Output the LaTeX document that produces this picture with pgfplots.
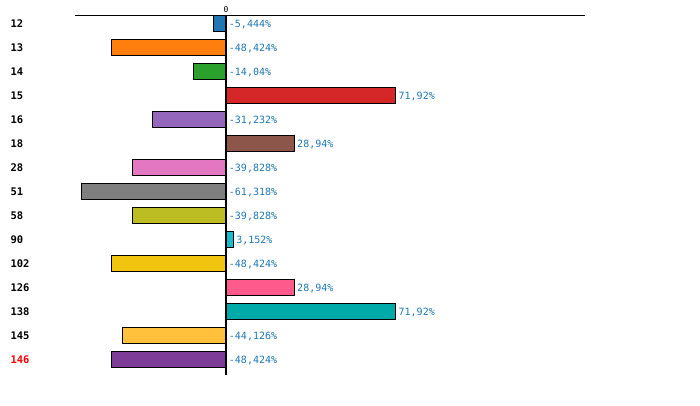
\documentclass[border=0pt]{standalone}
\usepackage{pgfplots}
\pgfplotsset{compat=1.18}
\usepackage{fontspec}
\setmainfont{DejaVu Sans Mono}
\definecolor{c12}{HTML}{1F77B4}
\definecolor{c13}{HTML}{FF7F0E}
\definecolor{c14}{HTML}{2CA02C}
\definecolor{c15}{HTML}{D62728}
\definecolor{c16}{HTML}{9467BD}
\definecolor{c18}{HTML}{8C564B}
\definecolor{c28}{HTML}{E377C2}
\definecolor{c51}{HTML}{7F7F7F}
\definecolor{c58}{HTML}{BCBD22}
\definecolor{c90}{HTML}{17BECF}
\definecolor{c102}{HTML}{F1C40F}
\definecolor{c126}{HTML}{FF5A8C}
\definecolor{c138}{HTML}{00AAA8}
\definecolor{c145}{HTML}{FFC13B}
\definecolor{c146}{HTML}{7D3C98}
\definecolor{valblue}{HTML}{1F77B4}
\begin{document}
\begin{tikzpicture}
\path[use as bounding box] (0,0) rectangle (700pt,405pt);
\begin{axis}[
  at={(75pt,30pt)}, anchor=south west,
  scale only axis, width=510pt, height=360pt,
  xmin=-64, xmax=152.1,
  ymin=-0.3333, ymax=14.6667, y dir=reverse,
  axis x line*=top, axis y line*=left,
  x axis line style={line width=0.8pt, -},
  y axis line style={draw=none},
  xtick={0}, xticklabels={0}, major tick length=0pt,
  xticklabel style={font=\fontsize{8}{9}\selectfont, yshift=-1pt},
  ytick={0,...,14},
  yticklabels={12,13,14,15,16,18,28,51,58,90,102,126,138,145,{\textcolor{red}{146}}},
  yticklabel style={anchor=west, xshift=-68pt, yshift=-0.5pt, font=\fontsize{10.5}{12}\selectfont\bfseries},
  clip=false,
  every axis plot/.append style={xbar, bar shift=0pt, bar width=16pt, draw=black, line width=0.8pt},
]
\addplot[fill=c12] coordinates {(-5.444,0)};
\addplot[fill=c13] coordinates {(-48.424,1)};
\addplot[fill=c14] coordinates {(-14.04,2)};
\addplot[fill=c15] coordinates {(71.92,3)};
\addplot[fill=c16] coordinates {(-31.232,4)};
\addplot[fill=c18] coordinates {(28.94,5)};
\addplot[fill=c28] coordinates {(-39.828,6)};
\addplot[fill=c51] coordinates {(-61.318,7)};
\addplot[fill=c58] coordinates {(-39.828,8)};
\addplot[fill=c90] coordinates {(3.152,9)};
\addplot[fill=c102] coordinates {(-48.424,10)};
\addplot[fill=c126] coordinates {(28.94,11)};
\addplot[fill=c138] coordinates {(71.92,12)};
\addplot[fill=c145] coordinates {(-44.126,13)};
\addplot[fill=c146] coordinates {(-48.424,14)};
\addplot[xbar=false, draw=none, only marks, mark=none,
  nodes near coords, point meta=explicit symbolic,
  nodes near coords style={anchor=west, inner sep=1pt, xshift=1.5pt, yshift=-1.5pt, text=valblue, font=\fontsize{10}{11}\selectfont}]
  table[x=x, y=y, meta=label] {
x y label
0 0 -5,444\%
0 1 -48,424\%
0 2 -14,04\%
71.92 3 71,92\%
0 4 -31,232\%
28.94 5 28,94\%
0 6 -39,828\%
0 7 -61,318\%
0 8 -39,828\%
3.152 9 3,152\%
0 10 -48,424\%
28.94 11 28,94\%
71.92 12 71,92\%
0 13 -44,126\%
0 14 -48,424\%
};
\draw[line width=1.6pt] (axis cs:0,-0.3333) -- (axis cs:0,14.6667);
\end{axis}
\end{tikzpicture}
\end{document}
